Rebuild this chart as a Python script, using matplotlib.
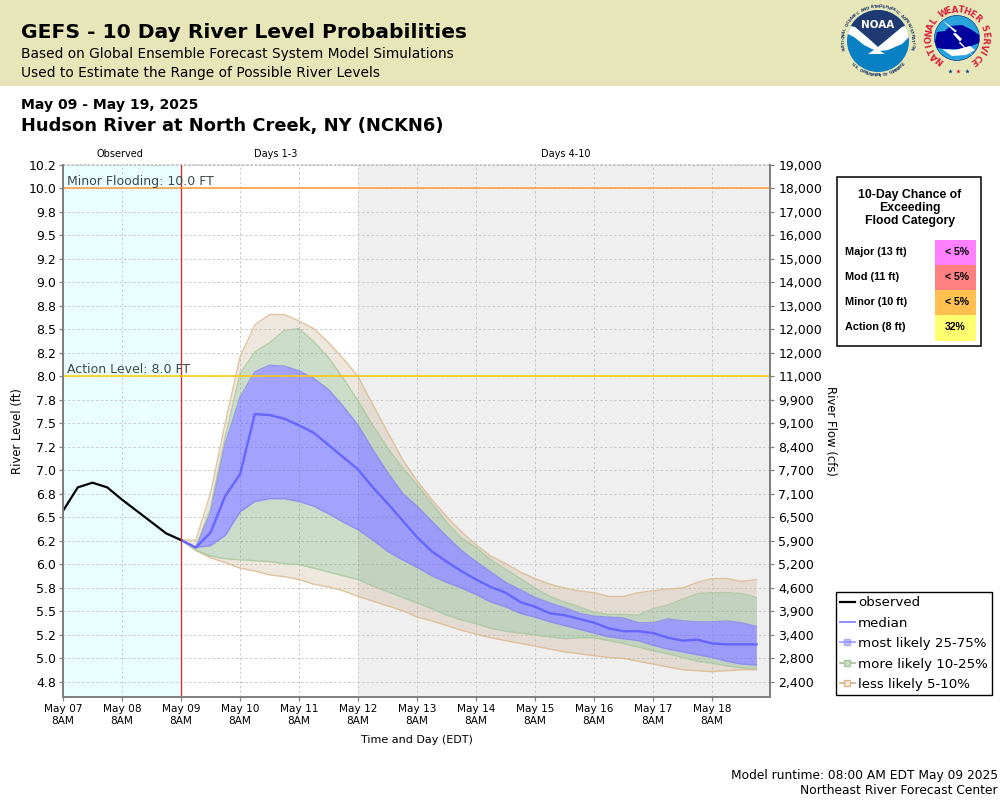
import matplotlib
matplotlib.use('Agg')
import matplotlib.pyplot as plt
from matplotlib.lines import Line2D
from matplotlib.patches import Circle, Polygon, Rectangle
import numpy as np
import pandas as pd

# values, river level in ft
observed = [6.57, 6.82, 6.87, 6.82, 6.69, 6.57, 6.45, 6.33, 6.26]
hi_5 = [6.26, 6.26, 6.76, 7.51, 8.21, 8.55, 8.66, 8.66, 8.59, 8.51, 8.36, 8.19, 8.00, 7.70, 7.41, 7.12,
        6.89, 6.69, 6.51, 6.35, 6.21, 6.09, 6.01, 5.92, 5.85, 5.79, 5.75, 5.72, 5.70, 5.66, 5.66, 5.70,
        5.72, 5.74, 5.75, 5.81, 5.85, 5.85, 5.82, 5.84]
hi_10 = [6.26, 6.18, 6.60, 7.36, 8.03, 8.26, 8.36, 8.49, 8.51, 8.37, 8.20, 7.98, 7.74, 7.48, 7.24, 7.03,
         6.85, 6.65, 6.45, 6.28, 6.18, 6.05, 5.95, 5.85, 5.75, 5.66, 5.60, 5.55, 5.49, 5.47, 5.47, 5.46,
         5.53, 5.57, 5.63, 5.69, 5.70, 5.70, 5.69, 5.65]
hi_25 = [6.26, 6.18, 6.55, 7.29, 7.78, 8.05, 8.12, 8.11, 8.06, 7.98, 7.86, 7.68, 7.48, 7.22, 6.98, 6.76,
         6.62, 6.46, 6.30, 6.15, 6.03, 5.92, 5.81, 5.73, 5.65, 5.59, 5.54, 5.48, 5.45, 5.44, 5.43, 5.38,
         5.38, 5.42, 5.40, 5.39, 5.39, 5.40, 5.38, 5.34]
median = [6.26, 6.18, 6.34, 6.73, 6.96, 7.60, 7.59, 7.55, 7.48, 7.40, 7.27, 7.14, 7.01, 6.82, 6.65, 6.47,
          6.29, 6.14, 6.03, 5.93, 5.84, 5.76, 5.70, 5.60, 5.55, 5.48, 5.46, 5.42, 5.38, 5.32, 5.29, 5.29,
          5.27, 5.22, 5.19, 5.20, 5.16, 5.15, 5.15, 5.15]
lo_25 = [6.26, 6.18, 6.20, 6.31, 6.56, 6.67, 6.70, 6.70, 6.67, 6.62, 6.54, 6.45, 6.37, 6.26, 6.14, 6.05,
         5.97, 5.88, 5.81, 5.75, 5.68, 5.60, 5.55, 5.48, 5.44, 5.39, 5.35, 5.31, 5.27, 5.23, 5.21, 5.19,
         5.14, 5.10, 5.07, 5.04, 5.01, 4.97, 4.94, 4.93]
lo_10 = [6.26, 6.15, 6.09, 6.06, 6.05, 6.04, 6.03, 6.01, 6.00, 5.96, 5.92, 5.88, 5.84, 5.77, 5.71, 5.65,
         5.59, 5.53, 5.46, 5.41, 5.37, 5.32, 5.29, 5.27, 5.25, 5.23, 5.21, 5.22, 5.22, 5.19, 5.16, 5.12,
         5.08, 5.05, 5.01, 4.97, 4.95, 4.92, 4.90, 4.89]
lo_5 = [6.26, 6.15, 6.07, 6.02, 5.96, 5.93, 5.89, 5.87, 5.84, 5.79, 5.76, 5.72, 5.66, 5.61, 5.56, 5.51,
        5.44, 5.40, 5.35, 5.30, 5.26, 5.22, 5.19, 5.16, 5.13, 5.10, 5.07, 5.05, 5.03, 5.01, 5.00, 4.97,
        4.94, 4.91, 4.88, 4.87, 4.86, 4.87, 4.88, 4.88]

level_ticks = [4.75 + 0.25 * i for i in range(23)]
level_labels = ['4.8', '5.0', '5.2', '5.5', '5.8', '6.0', '6.2', '6.5', '6.8', '7.0', '7.2', '7.5',
                '7.8', '8.0', '8.2', '8.5', '8.8', '9.0', '9.2', '9.5', '9.8', '10.0', '10.2']
flow_labels = ['2,400', '2,800', '3,400', '3,900', '4,600', '5,200', '5,900', '6,500', '7,100', '7,700',
               '8,400', '9,100', '9,900', '11,000', '12,000', '12,000', '13,000', '14,000', '15,000',
               '16,000', '17,000', '18,000', '19,000']
day_labels = ['May 07', 'May 08', 'May 09', 'May 10', 'May 11', 'May 12',
              'May 13', 'May 14', 'May 15', 'May 16', 'May 17', 'May 18']
flood_cats = ['Major (13 ft)', 'Mod (11 ft)', 'Minor (10 ft)', 'Action (8 ft)']
flood_chance = ['< 5%', '< 5%', '< 5%', '32%']
flood_colors = ['#ff80ff', '#ff8080', '#ffc050', '#ffff70']

obs_time = pd.date_range('2025-05-07 08:00', periods=9, freq='6h')
fc_time = pd.date_range('2025-05-09 08:00', periods=40, freq='6h')
day_ticks = pd.date_range('2025-05-07 08:00', periods=12, freq='D')
x_end = day_ticks[0] + pd.Timedelta(days=11.98)
BLUE = '#6666ff'
GREEN = '#7fa878'
TAN = '#dcb88c'
TAN_FILL = '#c8b090'

fig = plt.figure(figsize=(10, 8), dpi=100)

# plot box is x 63-770, y 165-697 in pixels
ax = fig.add_axes([0.063, 0.12875, 0.707, 0.665])
ax.set_xlim(day_ticks[0], x_end)
ax.set_ylim(4.59, 10.25)

ax.axvspan(day_ticks[0], day_ticks[2], color='#e9ffff', lw=0, zorder=0)
ax.axvspan(day_ticks[5], x_end, color='#efefef', lw=0, zorder=0)
ax.grid(True, color='#c8c8c8', linewidth=0.7, dashes=(2.4, 2.4), zorder=1)
ax.set_axisbelow(True)

# bands, outer to inner
ax.fill_between(fc_time, hi_10, hi_5, color=TAN_FILL, alpha=0.3, lw=0, zorder=2)
ax.fill_between(fc_time, lo_5, lo_10, color=TAN_FILL, alpha=0.3, lw=0, zorder=2)
ax.fill_between(fc_time, hi_25, hi_10, color=GREEN, alpha=0.4, lw=0, zorder=2)
ax.fill_between(fc_time, lo_10, lo_25, color=GREEN, alpha=0.4, lw=0, zorder=2)
ax.fill_between(fc_time, lo_25, hi_25, color=BLUE, alpha=0.6, lw=0, zorder=2)
for vals, col in [(hi_5, TAN), (lo_5, TAN), (hi_10, '#a9c79c'), (lo_10, '#a9c79c'),
                  (hi_25, '#8888ee'), (lo_25, '#8888ee')]:
    ax.plot(fc_time, vals, color=col, lw=1.0, alpha=0.8, zorder=3)
ax.plot(fc_time, median, color=BLUE, lw=1.7, zorder=4)
ax.plot(obs_time, observed, color='black', lw=1.6, zorder=5)

ax.axvline(day_ticks[2], color='#cc3333', lw=1.0, zorder=6)
ax.axhline(10.0, color='#ff9a33', lw=1.1, zorder=6)
ax.axhline(8.0, color='#ffcc00', lw=1.1, zorder=6)
ax.text(day_ticks[0] + pd.Timedelta(hours=1.6), 10.0, 'Minor Flooding: 10.0 FT', fontsize=9,
        color='#404848', va='bottom', zorder=7)
ax.text(day_ticks[0] + pd.Timedelta(hours=1.6), 8.0, 'Action Level: 8.0 FT', fontsize=9,
        color='#404848', va='bottom', zorder=7)

ax.set_xticks(day_ticks)
ax.set_xticklabels([d + '\n8AM' for d in day_labels], fontsize=7.6, linespacing=1.2)
ax.set_yticks(level_ticks)
ax.set_yticklabels(level_labels, fontsize=9)
ax.tick_params(length=3, width=0.9, color='#808080', pad=2)
ax2 = ax.twinx()
ax2.set_ylim(ax.get_ylim())
ax2.set_yticks(level_ticks)
ax2.set_yticklabels(flow_labels, fontsize=9)
ax2.tick_params(length=3, width=0.9, color='#808080', pad=3)
for a in (ax, ax2):
    for side in ['left', 'right', 'bottom']:
        a.spines[side].set_color('#808080')
        a.spines[side].set_linewidth(1.3)
    a.spines['top'].set_visible(False)
ax.plot([0, 1], [1, 1], transform=ax.transAxes, color='#c0c0c0', lw=1.2, ls=(0, (1.5, 1)), clip_on=False)

# pixel overlays for header, table and logos
ov = fig.add_axes([0, 0, 1, 1], zorder=-1)
ov.set_xlim(0, 1000)
ov.set_ylim(800, 0)
ov.axis('off')
top = fig.add_axes([0, 0, 1, 1], zorder=10)
top.set_xlim(0, 1000)
top.set_ylim(800, 0)
top.axis('off')

ov.add_patch(Rectangle((0, 0), 1000, 86, color='#e6e6b8', lw=0))
top.text(21, 33, 'GEFS - 10 Day River Level Probabilities', fontsize=14.6, fontweight='bold', va='center')
top.text(21, 54, 'Based on Global Ensemble Forecast System Model Simulations', fontsize=9.95, va='center')
top.text(21, 73, 'Used to Estimate the Range of Possible River Levels', fontsize=9.95, va='center')
top.text(21, 105, 'May 09 - May 19, 2025', fontsize=10.1, fontweight='bold', va='center')
top.text(21, 126, 'Hudson River at North Creek, NY (NCKN6)', fontsize=12.9, fontweight='bold', va='center')

top.text(120, 154, 'Observed', fontsize=7, ha='center', va='center')
top.text(276, 154, 'Days 1-3', fontsize=7, ha='center', va='center')
top.text(566, 154, 'Days 4-10', fontsize=7, ha='center', va='center')
top.text(18, 431, 'River Level (ft)', fontsize=8.4, rotation=90, ha='center', va='center')
top.text(831, 431, 'River Flow (cfs)', fontsize=8.4, rotation=-90, ha='center', va='center')
top.text(417, 740, 'Time and Day (EDT)', fontsize=8, ha='center', va='center')
top.text(998, 775, 'Model runtime: 08:00 AM EDT May 09 2025', fontsize=8.8, ha='right', va='center')
top.text(998, 791, 'Northeast River Forecast Center', fontsize=8.8, ha='right', va='center')

# flood category table
top.add_patch(Rectangle((836.5, 176.5), 144, 169, fc='white', ec='black', lw=1.1))
top.text(910, 208, '10-Day Chance of\nExceeding\nFlood Category', fontsize=8.8, fontweight='bold',
         family='Liberation Sans', ha='center', va='center', linespacing=1.12)
for i, (cat, chance, col) in enumerate(zip(flood_cats, flood_chance, flood_colors)):
    y0 = 240 + 25 * i
    top.add_patch(Rectangle((935, y0), 41, 25 if i < 3 else 26, color=col, lw=0))
    top.text(845, y0 + 12, cat, fontsize=7.8, fontweight='bold', family='Liberation Sans', va='center')
    top.text(945, y0 + 12, chance, fontsize=7.6, fontweight='bold', family='Liberation Sans', va='center')

handles = [
    Line2D([], [], color='black', lw=1.6),
    Line2D([], [], color=BLUE, lw=1.3, alpha=0.8),
    Line2D([], [], color=BLUE, lw=1.3, alpha=0.6, marker='s', ms=5, mfc='#9999ff', mec='#8888ee'),
    Line2D([], [], color='#a9c79c', lw=1.3, marker='s', ms=5, mfc='#cbdcc4', mec='#a9c79c'),
    Line2D([], [], color=TAN, lw=1.3, marker='s', ms=5, mfc='#f0e8de', mec=TAN),
]
names = ['observed', 'median', 'most likely 25-75%', 'more likely 10-25%', 'less likely 5-10%']
leg = fig.legend(handles, names, loc='lower left', bbox_to_anchor=(0.8355, 0.1312), bbox_transform=fig.transFigure,
                 fontsize=9.6, frameon=True, fancybox=False, edgecolor='black', framealpha=1,
                 borderpad=0.3, handlelength=1.15, handletextpad=0.25, labelspacing=0.56, borderaxespad=0)
leg.get_frame().set_linewidth(1.0)


def arc_text(txt, cx, cy, r, a0, a1, **kw):
    # one glyph at a time along a circle, angles in degrees
    for ch, a in zip(txt, np.linspace(a0, a1, len(txt))):
        rad = np.deg2rad(a)
        rot = a - 90 if a1 < a0 else a + 90
        top.text(cx + r * np.cos(rad), cy - r * np.sin(rad), ch, rotation=rot,
                 ha='center', va='center', **kw)


# NOAA logo
nx, ny = 878, 41
disc = Circle((nx, ny), 31, fc='#0a80c4', lw=0)
top.add_patch(disc)
navy = Polygon([(840, 0), (915, 0), (915, 22), (902, 27), (890, 37), (878, 47), (868, 38), (855, 27), (840, 22)],
               fc='#1f3a72', lw=0)
top.add_patch(navy)
navy.set_clip_path(disc)
bird = Polygon([(844, 25), (855, 27), (868, 38), (878, 47), (890, 37), (902, 27), (914, 23), (914, 32), (902, 44),
                (888, 50), (880, 51), (885, 54), (868, 54), (874, 50), (864, 45), (854, 37), (844, 32)],
               fc='white', lw=0)
top.add_patch(bird)
bird.set_clip_path(disc)
top.text(nx, 25, 'NOAA', color='white', fontsize=7.5, fontweight='bold', ha='center', va='center')
arc_text('NATIONAL OCEANIC AND ATMOSPHERIC ADMINISTRATION', nx, ny, 34.5, 192, -12, fontsize=2.9,
         color='#27406f', fontweight='bold')
arc_text('U.S. DEPARTMENT OF COMMERCE', nx, ny, 34.5, 222, 318, fontsize=2.9, color='#27406f', fontweight='bold')

# NWS logo
wx, wy = 957, 38
top.add_patch(Circle((wx, wy), 22.5, fc='#2aa3dc', ec='#0a3a8c', lw=0.5))
top.add_patch(Polygon([(935, 42), (937, 32), (945, 31), (950, 26), (962, 25), (972, 30), (979, 35), (979, 43),
                       (971, 46), (960, 49), (945, 49), (937, 48)], fc='#00009c', lw=0))
top.add_patch(Polygon([(942, 49), (955, 50), (970, 46), (975, 50), (966, 55), (952, 56)], fc='white', lw=0))
top.add_patch(Polygon([(942, 20), (957, 31), (953, 34), (975, 58), (959, 43), (962, 39)], fc='white', lw=0))
arc_text('NATIONAL WEATHER SERVICE', wx, wy, 28, 232, -55, fontsize=6.2, color='#d8203c', fontweight='bold')
for sx, col in [(950, '#0a3a8c'), (958, '#d8203c'), (967, '#0a3a8c')]:
    top.plot(sx, 71, marker='*', ms=3.5, color=col, mew=0)

fig.savefig('out.png', dpi=100)
